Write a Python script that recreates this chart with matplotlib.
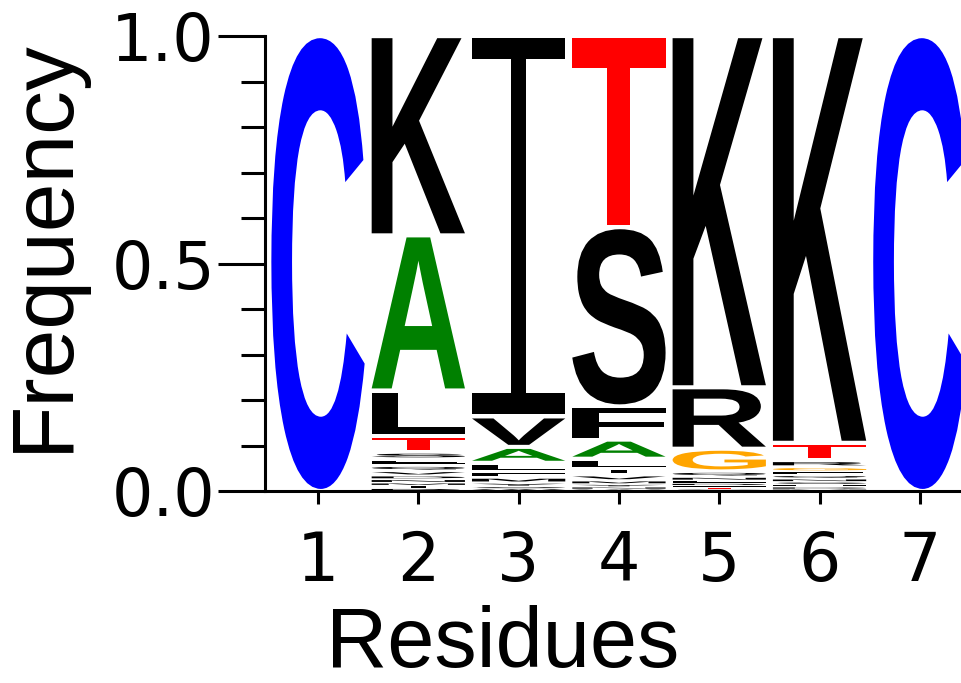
import numpy as np
import matplotlib
matplotlib.use("Agg")
import matplotlib.pyplot as plt
from matplotlib.textpath import TextPath
from matplotlib.patches import PathPatch
from matplotlib.font_manager import FontProperties
from matplotlib.transforms import Affine2D
from matplotlib.ticker import MultipleLocator

# residue frequencies per position
positions = [1, 2, 3, 4, 5, 6, 7]
pos1 = {"C": 1.0}
pos2 = {"K": 0.438, "A": 0.341, "L": 0.100, "T": 0.035, "S": 0.016, "E": 0.014,
        "Q": 0.012, "V": 0.010, "N": 0.008, "D": 0.008, "R": 0.006, "I": 0.006, "M": 0.006}
pos3 = {"I": 0.836, "V": 0.067, "A": 0.035, "L": 0.020, "M": 0.012, "F": 0.012,
        "Y": 0.008, "W": 0.005, "S": 0.005}
pos4 = {"T": 0.420, "S": 0.394, "F": 0.073, "A": 0.042, "L": 0.022, "I": 0.014,
        "V": 0.012, "M": 0.008, "Y": 0.006, "N": 0.005, "W": 0.004}
pos5 = {"K": 0.772, "R": 0.135, "G": 0.050, "Q": 0.012, "N": 0.008, "E": 0.006,
        "D": 0.005, "S": 0.004, "T": 0.004, "H": 0.004}
pos6 = {"K": 0.894, "T": 0.039, "R": 0.014, "G": 0.010, "Q": 0.008, "E": 0.008,
        "N": 0.007, "S": 0.006, "D": 0.005, "H": 0.005, "M": 0.004}
pos7 = {"C": 1.0}
columns = [pos1, pos2, pos3, pos4, pos5, pos6, pos7]

colors = {"C": "#0000ff", "A": "#008000", "T": "#ff0000", "G": "#ffa500"}

letter_font = FontProperties(family="Liberation Sans", weight="bold")
thin_font = FontProperties(family="Liberation Sans", weight="normal")


def fit_path(ch, prop, x0, y0, w, h, flip=False):
    path = TextPath((0, 0), ch, size=1, prop=prop)
    bb = path.get_extents()
    tr = Affine2D().translate(-bb.x0, -bb.y0).scale(w / bb.width, h / bb.height)
    if flip:
        tr = tr.scale(1, -1).translate(0, h)
    tr = tr.translate(x0, y0)
    return tr.transform_path(path)


def draw_letter(ax, ch, x, y, w, h, color):
    if ch == "I":
        # capped I: a thin T on top of an upside-down thin T
        half = h / 2
        ov = h * 0.01
        for yy, fl in [(y + half - ov, False), (y, True)]:
            p = fit_path("T", thin_font, x - w / 2, yy, w, half + ov, flip=fl)
            ax.add_patch(PathPatch(p, fc=color, ec="none", lw=0))
        return
    p = fit_path(ch, letter_font, x - w / 2, y, w, h)
    ax.add_patch(PathPatch(p, fc=color, ec="none", lw=0))


fig = plt.figure(figsize=(9.62, 6.83), dpi=100)
ax = fig.add_axes([0.2755, 0.2811, 0.7245, 0.666])

width = 0.93
for x, col in zip(positions, columns):
    y = 0.0
    for ch, f in sorted(col.items(), key=lambda kv: kv[1]):
        pad = min(0.0045, f * 0.25)
        draw_letter(ax, ch, x, y + pad, width, f - 2 * pad, colors.get(ch, "black"))
        y += f

ax.set_xlim(0.472, 7.42)
ax.set_ylim(0, 1.0)

for s in ["top", "right"]:
    ax.spines[s].set_visible(False)
for s in ["left", "bottom"]:
    ax.spines[s].set_linewidth(2.2)

ax.set_xticks(positions)
ax.set_xticklabels([str(p) for p in positions])
ax.set_yticks([0.0, 0.5, 1.0])
ax.set_yticklabels(["0.0", "0.5", "1.0"])
ax.yaxis.set_minor_locator(MultipleLocator(0.1))
ax.tick_params(axis="y", which="major", length=34, width=2.2, labelsize=47, pad=2)
ax.tick_params(axis="y", which="minor", length=17, width=2.2)
ax.tick_params(axis="x", which="major", length=9, width=2.2, labelsize=48, pad=18)

ax.set_ylabel("Frequency", fontsize=63, family="Liberation Sans", va="center")
ax.yaxis.set_label_coords(-0.316, 0.54)
ax.set_xlabel("Residues", fontsize=61, family="Liberation Sans", va="center")
ax.xaxis.set_label_coords(0.341, -0.338)

fig.savefig("out.png", dpi=100)
